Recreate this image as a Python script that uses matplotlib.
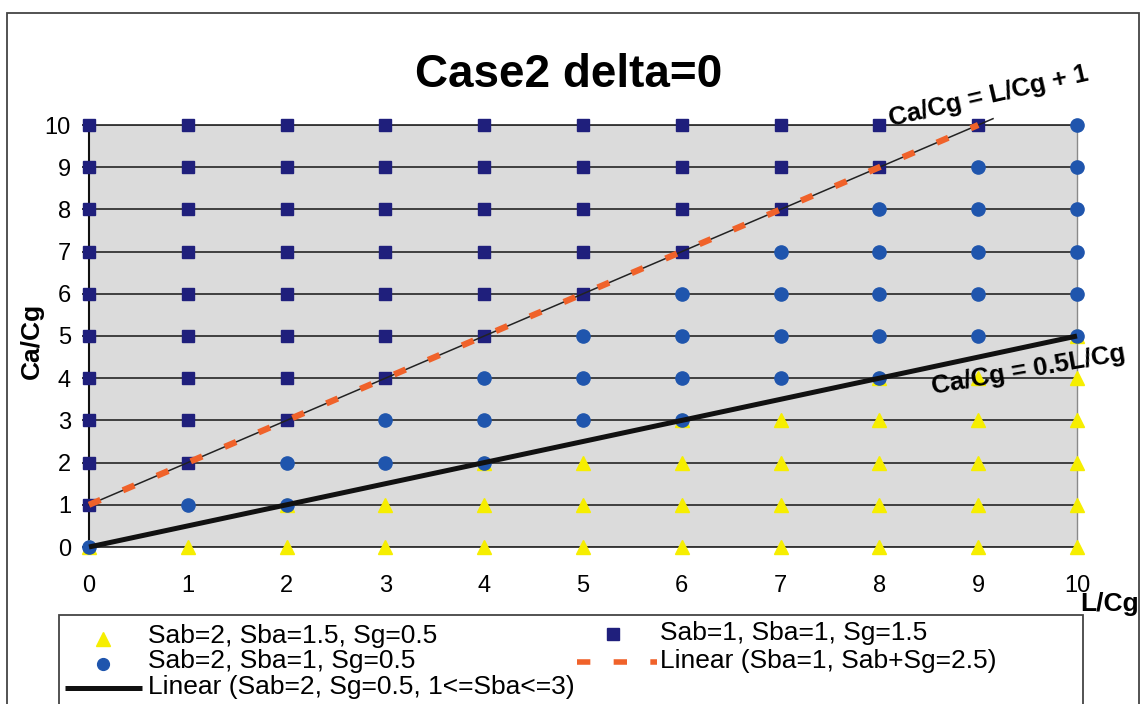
import matplotlib
matplotlib.use("Agg")
import matplotlib.pyplot as plt
from matplotlib.lines import Line2D
from matplotlib.patches import Rectangle

plt.rcParams["font.family"] = ["Liberation Sans", "DejaVu Sans"]

# ---- data -------------------------------------------------------------
L_over_Cg = [0, 1, 2, 3, 4, 5, 6, 7, 8, 9, 10]

# Ca/Cg values found at each L/Cg column, one list per column
tri_cols = [[0], [0], [0, 1], [0, 1], [0, 1, 2], [0, 1, 2],
            [0, 1, 2, 3], [0, 1, 2, 3], [0, 1, 2, 3, 4], [0, 1, 2, 3, 4],
            [0, 1, 2, 3, 4, 5]]
circ_cols = [[0], [1], [1, 2], [2, 3], [2, 3, 4], [3, 4, 5],
             [3, 4, 5, 6], [4, 5, 6, 7], [4, 5, 6, 7, 8], [5, 6, 7, 8, 9],
             [5, 6, 7, 8, 9, 10]]
sq_cols = [[1, 2, 3, 4, 5, 6, 7, 8, 9, 10], [2, 3, 4, 5, 6, 7, 8, 9, 10],
           [3, 4, 5, 6, 7, 8, 9, 10], [4, 5, 6, 7, 8, 9, 10],
           [5, 6, 7, 8, 9, 10], [6, 7, 8, 9, 10], [7, 8, 9, 10],
           [8, 9, 10], [9, 10], [10], []]

# trend lines
fit_a_x = [0, 9]          # Linear (Sba=1, Sab+Sg=2.5)
fit_a_y = [1, 10]
guide_a_x = [0, 9.15]     # Ca/Cg = L/Cg + 1
guide_a_y = [1, 10.15]
fit_b_x = [0, 10]         # Linear (Sab=2, Sg=0.5, 1<=Sba<=3)
fit_b_y = [0, 5]

x_ticks = [0, 1, 2, 3, 4, 5, 6, 7, 8, 9, 10]
y_ticks = [0, 1, 2, 3, 4, 5, 6, 7, 8, 9, 10]

lab_tri = "Sab=2, Sba=1.5, Sg=0.5"
lab_circ = "Sab=2, Sba=1, Sg=0.5"
lab_sq = "Sab=1, Sba=1, Sg=1.5"
lab_fit_a = "Linear (Sba=1, Sab+Sg=2.5)"
lab_fit_b = "Linear (Sab=2, Sg=0.5, 1<=Sba<=3)"


def expand(cols):
    xs, ys = [], []
    for x, col in zip(L_over_Cg, cols):
        for y in col:
            xs.append(x)
            ys.append(y)
    return xs, ys


YELLOW = "#f6ee00"
BLUE = "#1f55ad"
NAVY = "#1f1f7c"
ORANGE = "#f0622a"
GRID = "#333333"

W, H = 1144, 704
fig = plt.figure(figsize=(W / 100, H / 100), dpi=100)


def fx(px):
    return px / W


def fy(py):
    return 1 - py / H


ax = fig.add_axes([fx(89), fy(547), fx(1077) - fx(89), fy(125) - fy(547)])
ax.set_facecolor("#dbdbdb")
ax.set_xlim(0, 10)
ax.set_ylim(0, 10)
ax.set_xticks(x_ticks)
ax.set_yticks(y_ticks)
ax.set_axisbelow(True)
ax.yaxis.grid(True, color=GRID, lw=1.3)
ax.xaxis.grid(False)

for side, col, lw in [("left", "#111111", 1.5), ("bottom", GRID, 1.3),
                      ("top", GRID, 1.3), ("right", "#8a8a8a", 1.0)]:
    ax.spines[side].set_color(col)
    ax.spines[side].set_linewidth(lw)

ax.tick_params(axis="y", direction="out", length=5, width=1.2, pad=8,
               labelsize=17, color="#111111")
ax.tick_params(axis="x", direction="out", length=4, width=1.2, pad=16,
               labelsize=17, color="#111111")

tx, ty = expand(tri_cols)
cx, cy = expand(circ_cols)
sx, sy = expand(sq_cols)
ax.plot(tx, ty, ls="none", marker="^", ms=10.5, color=YELLOW, mec=YELLOW,
        clip_on=False, zorder=3)
ax.plot(cx, cy, ls="none", marker="o", ms=9.5, color=BLUE, mec=BLUE,
        clip_on=False, zorder=4)
ax.plot(sx, sy, ls="none", marker="s", ms=8.5, color=NAVY, mec=NAVY,
        clip_on=False, zorder=5)

ax.plot(guide_a_x, guide_a_y, color="#222222", lw=1.1, clip_on=False, zorder=6)
ax.plot(fit_a_x, fit_a_y, color=ORANGE, lw=4.5, dashes=(2.0, 3.9),
        clip_on=False, zorder=7)
ax.plot(fit_b_x, fit_b_y, color="#111111", lw=3.6, solid_capstyle="butt",
        clip_on=False, zorder=7)

ax.text(8.12, 9.97, "Ca/Cg = L/Cg + 1", fontsize=18.5, fontweight="bold",
        rotation=13, rotation_mode="anchor", ha="left", va="baseline",
        zorder=8)
ax.text(8.54, 3.62, "Ca/Cg = 0.5L/Cg", fontsize=18.5, fontweight="bold",
        rotation=10, rotation_mode="anchor", ha="left", va="baseline",
        zorder=8)

# titles and axis names
fig.text(fx(569), fy(87), "Case2 delta=0", fontsize=33, fontweight="bold",
         ha="center", va="baseline")
fig.text(fx(32), fy(341), "Ca/Cg", fontsize=19, fontweight="bold",
         rotation=90, ha="center", va="center")
fig.text(fx(1110), fy(611), "L/Cg", fontsize=19, fontweight="bold",
         ha="center", va="baseline")

# chart and legend frames
fig.add_artist(Rectangle((fx(7), -0.05), fx(1139) - fx(7), fy(13) + 0.05,
                         transform=fig.transFigure, fill=False,
                         ec="#444444", lw=1.3))
fig.add_artist(Rectangle((fx(59), -0.05), fx(1083) - fx(59), fy(615) + 0.05,
                         transform=fig.transFigure, fill=False,
                         ec="#444444", lw=1.3))

# legend entries
fig.add_artist(Line2D([fx(103)], [fy(639)], transform=fig.transFigure,
                      ls="none", marker="^", ms=10.5, color=YELLOW, mec=YELLOW))
fig.add_artist(Line2D([fx(103)], [fy(664)], transform=fig.transFigure,
                      ls="none", marker="o", ms=8.5, color=BLUE, mec=BLUE))
fig.add_artist(Line2D([fx(65), fx(142)], [fy(688), fy(688)],
                      transform=fig.transFigure, color="#111111", lw=3.6,
                      solid_capstyle="butt"))
fig.add_artist(Line2D([fx(613)], [fy(634)], transform=fig.transFigure,
                      ls="none", marker="s", ms=8, color=NAVY, mec=NAVY))
fig.add_artist(Line2D([fx(577), fx(657)], [fy(662), fy(662)],
                      transform=fig.transFigure, color=ORANGE, lw=4,
                      dashes=(2.4, 4.2)))

for px, py, txt in [(148, 643, lab_tri), (148, 668, lab_circ),
                    (148, 694, lab_fit_b), (660, 640, lab_sq),
                    (660, 668, lab_fit_a)]:
    fig.text(fx(px), fy(py), txt, fontsize=19, ha="left", va="baseline")

fig.savefig("out.png", dpi=100, facecolor="white")
